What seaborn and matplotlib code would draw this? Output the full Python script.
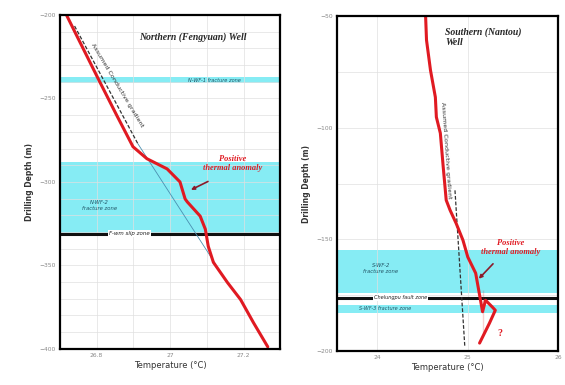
import numpy as np
import pandas as pd
import matplotlib
matplotlib.use("Agg")
import matplotlib.pyplot as plt
from matplotlib.ticker import MultipleLocator
import seaborn as sns

# Northern (Fengyuan) well temperature log
north_temp = [26.718, 26.745, 26.808, 26.855, 26.899, 26.937, 26.992, 27.027, 27.041,
              27.047, 27.082, 27.096, 27.104, 27.118, 27.156, 27.192, 27.227, 27.266]
north_depth = [-200, -212, -239.8, -260.2, -278.9, -286.1, -292.2, -300, -310.2,
               -312, -320.5, -328.3, -338.6, -348.2, -360.2, -370.5, -384.3, -398.8]
north_grad_temp = [26.74, 26.912, 27.123]
north_grad_depth = [-206.6, -277, -349]

# Southern (Nantou) well temperature log
south_temp = [24.533, 24.543, 24.587, 24.641, 24.652, 24.696, 24.728, 24.761, 24.804,
              24.870, 24.946, 25.0, 25.087, 25.163, 25.196, 25.272, 25.304, 25.239,
              25.163, 25.130]
south_depth = [-50, -60.7, -74.2, -86.3, -95.2, -102.4, -117.6, -132.4, -136.9,
               -142.7, -150.3, -157.9, -165.1, -172.7, -177.2, -180.3, -181.7, -187.5,
               -192, -196.4]
south_grad_temp = [24.858, 24.967]
south_grad_depth = [-128, -198.2]

# zones (top, bottom)
north_zone1 = (-237, -240.5)
north_zone2 = (-288, -331)
north_slip = -331
south_zone1 = (-154.8, -174)
south_slip = -176
south_zone2 = (-179.4, -182.8)

sns.set_style("white")
plt.rcParams['font.family'] = ['DejaVu Sans']

fig = plt.figure(figsize=(5.65, 3.85), dpi=100)
ax1 = fig.add_axes([0.106, 0.094, 0.390, 0.867])
ax2 = fig.add_axes([0.596, 0.088, 0.392, 0.870])

cyan = "#86ecf4"
red = "#e01a22"
serif = "Liberation Serif"


def style_axes(ax):
    ax.grid(True, which="both", color="#e0e0e0", lw=0.5)
    ax.set_axisbelow(True)
    for s in ax.spines.values():
        s.set_color("black")
        s.set_linewidth(1.6)
    ax.tick_params(axis="both", which="both", labelsize=4.3, colors="#888888",
                   length=0, pad=3)
    ax.set_ylabel("Drilling Depth (m)", fontsize=5.5, fontweight="bold", color="#333333")
    ax.set_xlabel("Temperature (\u00b0C)", fontsize=6, color="#333333", labelpad=2)


# ---- left panel ----
ax = ax1
ax.axhspan(*north_zone1, color=cyan, lw=0, zorder=0.5)
ax.axhspan(*north_zone2, color=cyan, lw=0, zorder=0.5)
ax.axhline(north_slip, color="#111111", lw=2.2, zorder=1)
ax.plot(north_grad_temp[:2], north_grad_depth[:2], ls=(0, (3, 1.5)), color="#333333", lw=0.9)
ax.plot(north_grad_temp[1:], north_grad_depth[1:], color="#4a8fb0", lw=0.6)
df_n = pd.DataFrame({"temp": north_temp, "depth": north_depth})
sns.lineplot(data=df_n, x="temp", y="depth", sort=False, color=red, lw=2.2, ax=ax)
ax.set_xlim(26.7, 27.3)
ax.set_ylim(-400, -200)
ax.xaxis.set_major_locator(MultipleLocator(0.2))
ax.xaxis.set_minor_locator(MultipleLocator(0.1))
ax.yaxis.set_major_locator(MultipleLocator(50))
ax.yaxis.set_minor_locator(MultipleLocator(10))
ax.set_xticks([26.8, 27.0, 27.2], ["26.8", "27", "27.2"])
style_axes(ax)

ax.text(27.063, -213, "Northern (Fengyuan) Well", family=serif, style="italic",
        fontweight="bold", fontsize=7, ha="center", va="center")
ax.text(27.12, -239, "N-WF-1 fracture zone", fontsize=3.6, style="italic",
        color="#225566", ha="center", va="center")
ax.text(26.808, -314, "N-WF-2\nfracture zone", fontsize=3.8, style="italic",
        color="#225566", ha="center", va="center", linespacing=1.3)
ax.text(26.89, north_slip, "F-wm slip zone", fontsize=4, style="italic", color="#222222",
        ha="center", va="center", bbox=dict(fc="white", ec="none", pad=0.6))
ax.text(26.857, -242, "Assumed Conductive gradient", fontsize=4.6, rotation=-59,
        rotation_mode="anchor", ha="center", va="center", color="#333333")
ax.text(27.17, -289, "Positive\nthermal anomaly", family=serif, style="italic",
        fontweight="bold", fontsize=6, color=red, ha="center", va="center", linespacing=1.1)
ax.annotate("", xy=(27.05, -305.5), xytext=(27.11, -299),
            arrowprops=dict(arrowstyle="-|>", color="#8b1a2a", lw=1.2, mutation_scale=5))

# ---- right panel ----
ax = ax2
ax.axhspan(*south_zone1, color=cyan, lw=0, zorder=0.5)
ax.axhspan(*south_zone2, color=cyan, lw=0, zorder=0.5)
ax.axhline(south_slip, color="#111111", lw=2.2, zorder=1)
ax.plot(south_grad_temp, south_grad_depth, ls=(0, (3, 1.5)), color="#333333", lw=0.9)
df_s = pd.DataFrame({"temp": south_temp, "depth": south_depth})
sns.lineplot(data=df_s, x="temp", y="depth", sort=False, color=red, lw=2.2, ax=ax)
ax.set_xlim(23.55, 26.0)
ax.set_ylim(-200, -50)
ax.xaxis.set_major_locator(MultipleLocator(1))
ax.xaxis.set_minor_locator(MultipleLocator(1))
ax.yaxis.set_major_locator(MultipleLocator(50))
ax.yaxis.set_minor_locator(MultipleLocator(25))
style_axes(ax)

ax.text(24.75, -55, "Southern (Nantou)\nWell", family=serif, style="italic",
        fontweight="bold", fontsize=7, ha="left", va="top", linespacing=1.2)
ax.text(24.76, -110, "Assumed Conductive gradient", fontsize=4.6, rotation=-86,
        rotation_mode="anchor", ha="center", va="center", color="#333333")
ax.text(24.04, -163, "S-WF-2\nfracture zone", fontsize=3.8, style="italic",
        color="#225566", ha="center", va="center", linespacing=1.3)
ax.text(24.26, south_slip, "Chelungpu fault zone", fontsize=3.6, style="italic",
        color="#222222", ha="center", va="center", bbox=dict(fc="white", ec="none", pad=0.6))
ax.text(24.08, -181, "S-WF-3 fracture zone", fontsize=3.6, style="italic",
        color="#225566", ha="center", va="center")
ax.text(25.47, -153.5, "Positive\nthermal anomaly", family=serif, style="italic",
        fontweight="bold", fontsize=6, color=red, ha="center", va="center", linespacing=1.1)
ax.annotate("", xy=(25.1, -168.5), xytext=(25.3, -160),
            arrowprops=dict(arrowstyle="-|>", color="#8b1a2a", lw=1.2, mutation_scale=5))
ax.text(25.36, -192, "?", family=serif, fontweight="bold", fontsize=7, color=red,
        ha="center", va="center")

fig.savefig("out.png", dpi=100)
